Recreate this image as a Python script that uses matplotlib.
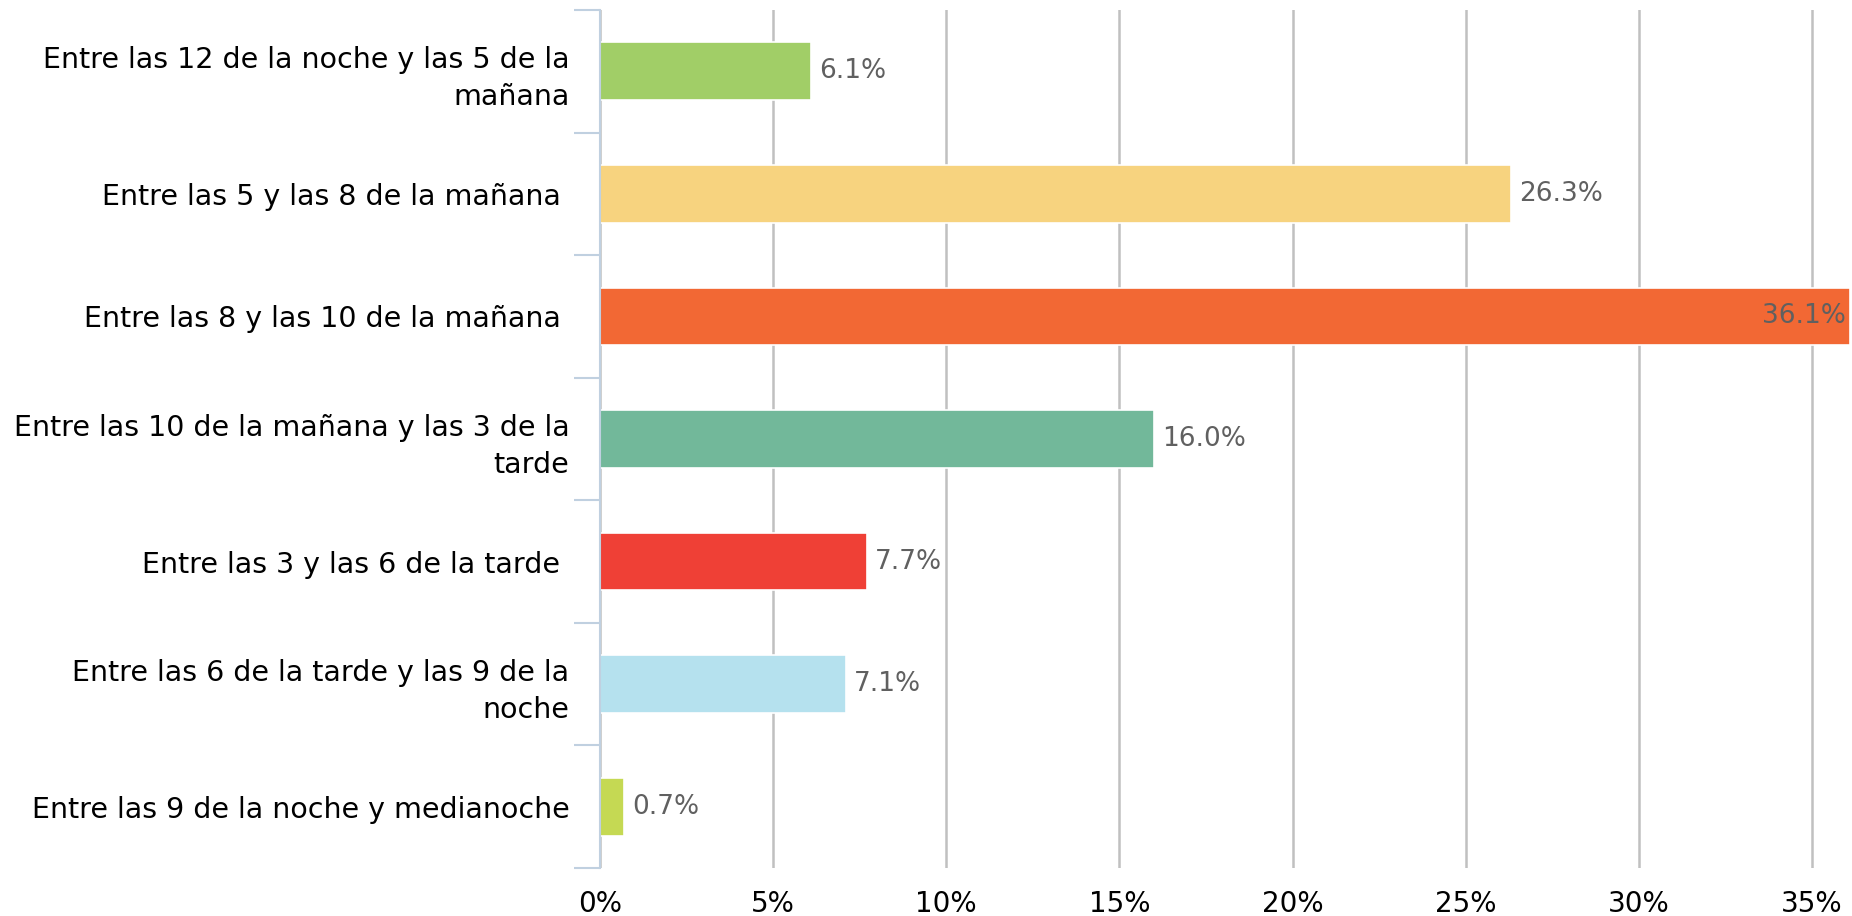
import matplotlib.pyplot as plt
import numpy as np

categories = [
    "Entre las 12 de la noche y las 5 de la\nmañana",
    "Entre las 5 y las 8 de la mañana ",
    "Entre las 8 y las 10 de la mañana ",
    "Entre las 10 de la mañana y las 3 de la\ntarde",
    "Entre las 3 y las 6 de la tarde ",
    "Entre las 6 de la tarde y las 9 de la\nnoche",
    "Entre las 9 de la noche y medianoche",
]
values = [6.1, 26.3, 36.1, 16.0, 7.7, 7.1, 0.7]
colors = ["#A1CE67", "#F7D37F", "#F26834", "#72B89A", "#EF4036", "#B5E1EE", "#C5D953"]
xticks = [0, 5, 10, 15, 20, 25, 30, 35]

fig = plt.figure(figsize=(18.52, 9.16), dpi=100)
ax = fig.add_axes([600 / 1852, 48 / 916, 1250 / 1852, 858 / 916])

y = np.arange(len(categories))
ax.barh(y, values, height=0.47, color=colors, edgecolor="white", linewidth=1.2, zorder=3)

ax.set_xlim(0, 36.1)
ax.set_ylim(len(categories) - 0.5, -0.5)

# data labels
for i, v in enumerate(values):
    if v > 35:
        ax.annotate(f"{v:.1f}%", (v, i), xytext=(-4, 0), textcoords="offset pixels",
                    ha="right", va="center", fontsize=19, color="#606060", zorder=4)
    else:
        ax.annotate(f"{v:.1f}%", (v, i), xytext=(8, 0), textcoords="offset pixels",
                    ha="left", va="center", fontsize=19, color="#606060", zorder=4)

# category labels, tick marks on band edges
ax.set_yticks(y)
ax.set_yticklabels(categories, fontsize=20.5, color="black", linespacing=1.4)
ax.tick_params(axis="y", length=0, pad=22)
ax.set_yticks(np.arange(-0.5, len(categories)), minor=True)
ax.tick_params(axis="y", which="minor", length=19, width=1.5, color="#C0D0E0")

ax.set_xticks(xticks)
ax.set_xticklabels([f"{t}%" for t in xticks], fontsize=20, color="black")
ax.tick_params(axis="x", length=0, pad=16)

ax.grid(axis="x", color="#C0C0C0", linewidth=1.8, zorder=0)
for s in ["top", "right", "bottom"]:
    ax.spines[s].set_visible(False)
ax.spines["left"].set_color("#C0D0E0")
ax.spines["left"].set_linewidth(1.5)
ax.spines["left"].set_zorder(5)

fig.savefig("out.png", dpi=100)
